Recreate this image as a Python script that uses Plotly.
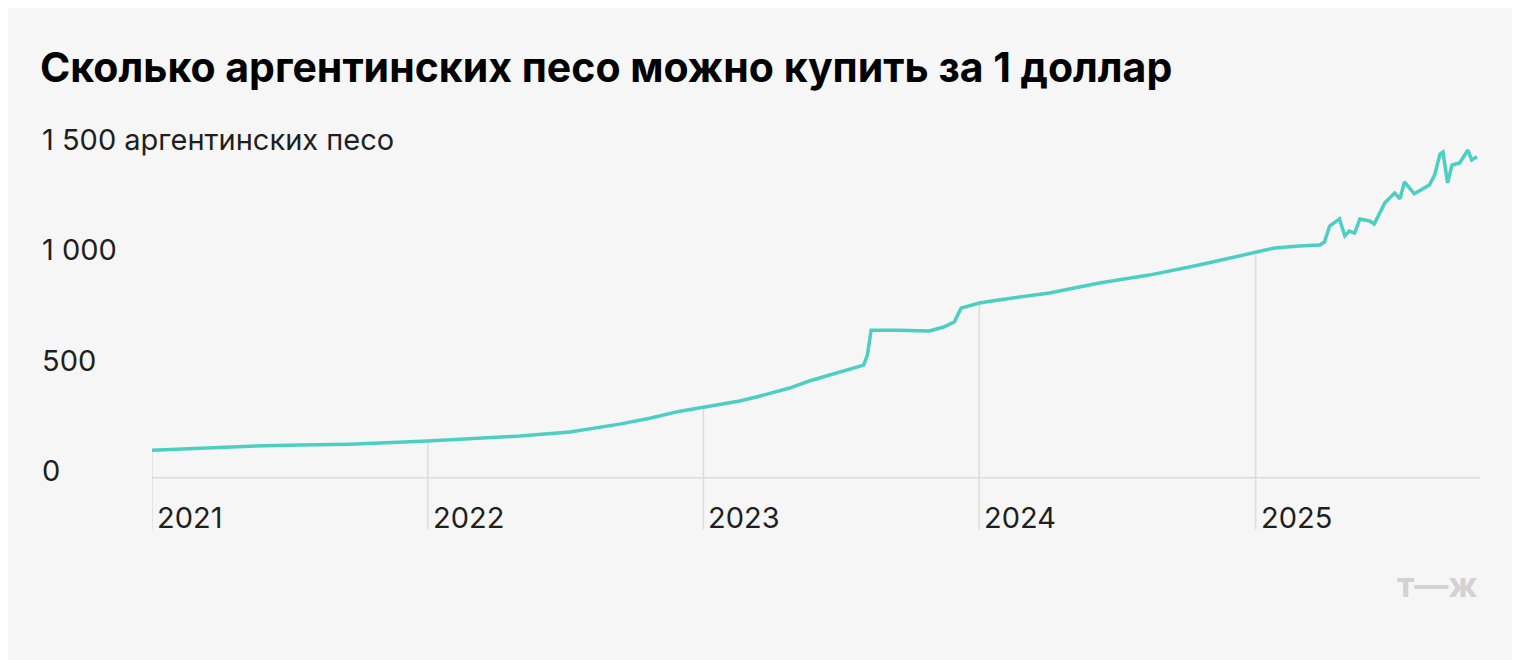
import plotly.graph_objects as go

dates = [
    "2021-01-01", "2021-03-06", "2021-05-11", "2021-07-16", "2021-09-20",
    "2022-01-01", "2022-02-26", "2022-05-03", "2022-07-08", "2022-09-12",
    "2022-10-22", "2022-12-01", "2023-01-01", "2023-02-18", "2023-03-16",
    "2023-04-25", "2023-05-21", "2023-06-30", "2023-08-01", "2023-08-06",
    "2023-08-11", "2023-09-17", "2023-10-27", "2023-11-15", "2023-11-29",
    "2023-12-08", "2024-01-01", "2024-01-27", "2024-04-03", "2024-06-08",
    "2024-08-13", "2024-10-18", "2025-01-01", "2025-01-26", "2025-02-28",
    "2025-03-27", "2025-04-02", "2025-04-09", "2025-04-22", "2025-04-29",
    "2025-05-05", "2025-05-12", "2025-05-19", "2025-06-01", "2025-06-07",
    "2025-06-21", "2025-07-04", "2025-07-11", "2025-07-17", "2025-07-30",
    "2025-08-19", "2025-08-26", "2025-09-02", "2025-09-06", "2025-09-12",
    "2025-09-18", "2025-09-28", "2025-10-09", "2025-10-14", "2025-10-21",
]
values = [
    90, 100, 109, 114, 118,
    132, 141, 155, 173, 209,
    236, 268, 286, 314, 336,
    373, 405, 445, 477, 523,
    636, 636, 632, 650, 673,
    736, 759, 773, 805, 850,
    886, 932, 991, 1009, 1018,
    1023, 1036, 1109, 1141, 1064,
    1086, 1077, 1141, 1132, 1118,
    1214, 1259, 1232, 1309, 1255,
    1295, 1341, 1436, 1445, 1305,
    1386, 1395, 1454, 1409, 1423,
]
years = ["2021", "2022", "2023", "2024", "2025"]
y_ticks = [0, 500, 1000, 1500]
y_labels = ["0", "500", "1 000", "1 500 аргентинских песо"]

LINE = "#4ccfc3"
GRID = "#dcdcdc"
TEXT = "#1f1f1f"

fig = go.Figure()
fig.add_trace(go.Scatter(
    x=dates, y=values, mode="lines",
    line=dict(color=LINE, width=3.5), hoverinfo="x+y", showlegend=False,
))

# drop lines at year starts, from the curve down below the axis
for yr in years:
    d = f"{yr}-01-01"
    v = values[dates.index(d)]
    fig.add_shape(type="line", xref="x", yref="y", x0=d, x1=d, y0=-270, y1=v,
                  line=dict(color=GRID, width=1.5), layer="below")
    fig.add_annotation(x=d, y=-215, xref="x", yref="y", text=yr, showarrow=False,
                       xanchor="left", xshift=3, font=dict(size=29, color=TEXT))

# baseline
fig.add_shape(type="line", xref="paper", yref="y", x0=0, x1=1, y0=-35, y1=-35,
              line=dict(color=GRID, width=1.5), layer="below")

for v, lab in zip(y_ticks, y_labels):
    fig.add_annotation(x=-0.0843, y=v, xref="paper", yref="y", text=lab,
                       showarrow=False, xanchor="left",
                       font=dict(size=29, color=TEXT))

fig.update_layout(
    width=1520, height=660,
    paper_bgcolor="#f6f6f6", plot_bgcolor="rgba(0,0,0,0)",
    margin=dict(l=144, r=48, t=122, b=134),
    font=dict(family="Inter, Roboto, sans-serif", color=TEXT),
    title=dict(text="<b>Сколько аргентинских песо можно купить за 1 доллар</b>",
               x=32 / 1520, xanchor="left", y=1 - 60 / 660, yanchor="middle",
               font=dict(size=41, color="#000")),
    xaxis=dict(range=["2021-01-01", "2025-10-25"], showgrid=False, zeroline=False,
               showticklabels=False, showline=False),
    yaxis=dict(range=[-290, 1545], showgrid=False, zeroline=False,
               showticklabels=False, showline=False),
)

fig.add_annotation(x=1, y=-0.18, xref="paper", yref="paper", text="<b>т—ж</b>",
                   showarrow=False, xanchor="right",
                   font=dict(size=34, color="#d2d2d2"))

fig.write_html("out.html")
